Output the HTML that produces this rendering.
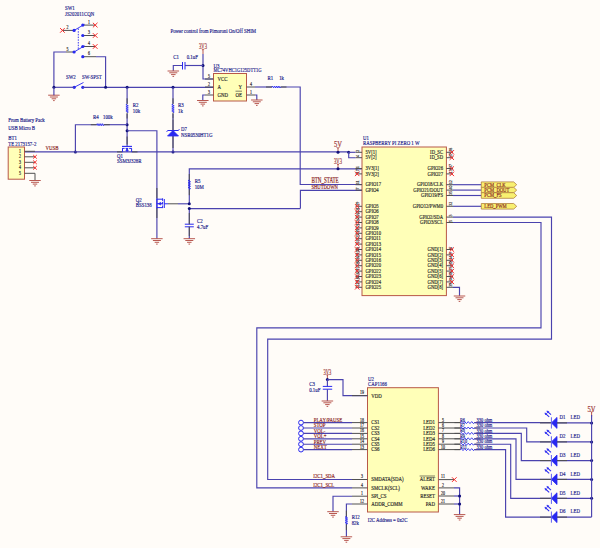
<!DOCTYPE html>
<html><head><meta charset="utf-8"><style>
html,body{margin:0;padding:0;background:#fffcf8;}
svg{display:block;font-family:"Liberation Serif",serif;}
</style></head><body>
<svg width="600" height="548" viewBox="0 0 600 548">
<rect width="600" height="548" fill="#fffcf8"/>
<text transform="translate(65 10.3) scale(0.7 1)" fill="#22228a" stroke="#22228a" stroke-width="0.2" font-size="6.92" text-anchor="start" >SW1</text>
<text transform="translate(65 15.6) scale(0.7 1)" fill="#22228a" stroke="#22228a" stroke-width="0.2" font-size="6.92" text-anchor="start" >JS202011CQN</text>
<line x1="82.8" y1="25.1" x2="95.2" y2="25.1" stroke="#505050" stroke-width="1" />
<line x1="92.9" y1="22.8" x2="97.5" y2="27.4" stroke="#f82828" stroke-width="1.0" />
<line x1="92.9" y1="27.4" x2="97.5" y2="22.8" stroke="#f82828" stroke-width="1.0" />
<text transform="translate(89 23.6) scale(0.7 1)" fill="#2a2a2a" stroke="#2a2a2a" stroke-width="0.2" font-size="5.59" text-anchor="middle" >1</text>
<circle cx="82.8" cy="25.1" r="1.6" fill="#2828f0"/>
<line x1="82.8" y1="35.5" x2="95.2" y2="35.5" stroke="#505050" stroke-width="1" />
<line x1="92.9" y1="33.2" x2="97.5" y2="37.8" stroke="#f82828" stroke-width="1.0" />
<line x1="92.9" y1="37.8" x2="97.5" y2="33.2" stroke="#f82828" stroke-width="1.0" />
<text transform="translate(89 34) scale(0.7 1)" fill="#2a2a2a" stroke="#2a2a2a" stroke-width="0.2" font-size="5.59" text-anchor="middle" >3</text>
<circle cx="82.8" cy="35.5" r="1.6" fill="#2828f0"/>
<line x1="82.8" y1="46.5" x2="95.2" y2="46.5" stroke="#505050" stroke-width="1" />
<line x1="92.9" y1="44.2" x2="97.5" y2="48.8" stroke="#f82828" stroke-width="1.0" />
<line x1="92.9" y1="48.8" x2="97.5" y2="44.2" stroke="#f82828" stroke-width="1.0" />
<text transform="translate(89 45) scale(0.7 1)" fill="#2a2a2a" stroke="#2a2a2a" stroke-width="0.2" font-size="5.59" text-anchor="middle" >4</text>
<circle cx="82.8" cy="46.5" r="1.6" fill="#2828f0"/>
<line x1="62.4" y1="30.4" x2="74.1" y2="30.4" stroke="#505050" stroke-width="1" />
<line x1="60.1" y1="28.1" x2="64.7" y2="32.7" stroke="#f82828" stroke-width="1.0" />
<line x1="60.1" y1="32.7" x2="64.7" y2="28.1" stroke="#f82828" stroke-width="1.0" />
<circle cx="74.1" cy="30.4" r="1.6" fill="#2828f0"/>
<text transform="translate(67.5 28.9) scale(0.7 1)" fill="#2a2a2a" stroke="#2a2a2a" stroke-width="0.2" font-size="5.59" text-anchor="middle" >2</text>
<line x1="74.1" y1="30.4" x2="84.5" y2="24.3" stroke="#2828f0" stroke-width="0.9" />
<line x1="74.1" y1="52" x2="84.5" y2="45.8" stroke="#2828f0" stroke-width="0.9" />
<line x1="78.3" y1="28.5" x2="78.3" y2="49.4" stroke="#2828f0" stroke-width="0.9" stroke-dasharray="1.5,1.2"/>
<line x1="66" y1="52" x2="74.1" y2="52" stroke="#505050" stroke-width="1" />
<circle cx="74.1" cy="52" r="1.6" fill="#2828f0"/>
<text transform="translate(67.5 50.5) scale(0.7 1)" fill="#2a2a2a" stroke="#2a2a2a" stroke-width="0.2" font-size="5.59" text-anchor="middle" >5</text>
<line x1="82.8" y1="56.7" x2="96" y2="56.7" stroke="#505050" stroke-width="1" />
<circle cx="82.8" cy="56.7" r="1.6" fill="#2828f0"/>
<text transform="translate(89 55.2) scale(0.7 1)" fill="#2a2a2a" stroke="#2a2a2a" stroke-width="0.2" font-size="5.59" text-anchor="middle" >6</text>
<polyline points="66,52 53.9,52 53.9,87.3" stroke="#4a42ae" stroke-width="1.15" fill="none" />
<polyline points="96,56.7 105.6,56.7 105.6,87.3" stroke="#4a42ae" stroke-width="1.15" fill="none" />
<text transform="translate(66 79) scale(0.7 1)" fill="#22228a" stroke="#22228a" stroke-width="0.2" font-size="6.92" text-anchor="start" >SW2</text>
<text transform="translate(82 79) scale(0.7 1)" fill="#22228a" stroke="#22228a" stroke-width="0.2" font-size="6.92" text-anchor="start" >SW-SPST</text>
<circle cx="74.2" cy="87.3" r="1.6" fill="#2828f0"/>
<circle cx="82.8" cy="87.3" r="1.6" fill="#2828f0"/>
<line x1="74.2" y1="87.3" x2="83.5" y2="82.5" stroke="#2828f0" stroke-width="0.9" />
<line x1="53.9" y1="87.3" x2="74.2" y2="87.3" stroke="#4a42ae" stroke-width="1.15" />
<line x1="82.8" y1="87.3" x2="213.5" y2="87.3" stroke="#4a42ae" stroke-width="1.15" />
<circle cx="53.9" cy="87.3" r="1.5" fill="#10107a"/>
<circle cx="105.6" cy="87.3" r="1.5" fill="#10107a"/>
<circle cx="127.1" cy="87.3" r="1.5" fill="#10107a"/>
<circle cx="173" cy="87.3" r="1.5" fill="#10107a"/>
<line x1="53.9" y1="94.7" x2="53.9" y2="95.2" stroke="#b85850" stroke-width="1" />
<line x1="48.15" y1="95.2" x2="59.65" y2="95.2" stroke="#b85850" stroke-width="1" />
<line x1="49.9" y1="97" x2="57.9" y2="97" stroke="#b85850" stroke-width="1" />
<line x1="51.65" y1="98.8" x2="56.15" y2="98.8" stroke="#b85850" stroke-width="1" />
<line x1="53.1" y1="100.6" x2="54.7" y2="100.6" stroke="#b85850" stroke-width="1" />
<line x1="53.9" y1="87.3" x2="53.9" y2="95.2" stroke="#4a42ae" stroke-width="1.15" />
<text transform="translate(170.5 33) scale(0.7 1)" fill="#22228a" stroke="#22228a" stroke-width="0.2" font-size="6.92" text-anchor="start" >Power control from Pimoroni On/Off SHIM</text>
<line x1="203" y1="49" x2="203" y2="54" stroke="#b85850" stroke-width="1" />
<polyline points="201.4,48.6 203,50.2 204.6,48.6" stroke="#b85850" stroke-width="0.8" fill="none" />
<text x="203" y="49" fill="#a04040" stroke="#a04040" stroke-width="0.2" font-size="7.71" text-anchor="middle" textLength="7.8" lengthAdjust="spacingAndGlyphs">3V3</text>
<polyline points="203,54 203,79 213.5,79" stroke="#4a42ae" stroke-width="1.15" fill="none" />
<circle cx="203" cy="65.5" r="1.5" fill="#10107a"/>
<line x1="185" y1="65.5" x2="203" y2="65.5" stroke="#4a42ae" stroke-width="1.15" />
<polyline points="182.5,65.5 173.3,65.5 173.3,71" stroke="#4a42ae" stroke-width="1.15" fill="none" />
<line x1="182.5" y1="62" x2="182.5" y2="69.5" stroke="#2828f0" stroke-width="1" />
<line x1="185" y1="62" x2="185" y2="69.5" stroke="#2828f0" stroke-width="1" />
<line x1="173.3" y1="70.5" x2="173.3" y2="71" stroke="#b85850" stroke-width="1" />
<line x1="167.55" y1="71" x2="179.05" y2="71" stroke="#b85850" stroke-width="1" />
<line x1="169.3" y1="72.8" x2="177.3" y2="72.8" stroke="#b85850" stroke-width="1" />
<line x1="171.05" y1="74.6" x2="175.55" y2="74.6" stroke="#b85850" stroke-width="1" />
<line x1="172.5" y1="76.4" x2="174.1" y2="76.4" stroke="#b85850" stroke-width="1" />
<text transform="translate(173.3 59) scale(0.7 1)" fill="#22228a" stroke="#22228a" stroke-width="0.2" font-size="6.92" text-anchor="start" >C1</text>
<text transform="translate(186.7 59) scale(0.7 1)" fill="#22228a" stroke="#22228a" stroke-width="0.2" font-size="6.92" text-anchor="start" >0.1uF</text>
<rect x="213.5" y="73.5" width="33" height="27.5" fill="#ffffb8" stroke="#b85848" stroke-width="1"/>
<text transform="translate(213.5 67.5) scale(0.7 1)" fill="#22228a" stroke="#22228a" stroke-width="0.2" font-size="6.92" text-anchor="start" >U3</text>
<text x="213.5" y="72.3" fill="#22228a" stroke="#22228a" stroke-width="0.2" font-size="6.92" text-anchor="start" textLength="48" lengthAdjust="spacingAndGlyphs">MC74VHC1G125DTT1G</text>
<line x1="205" y1="79" x2="213.5" y2="79" stroke="#505050" stroke-width="1" />
<text transform="translate(209 77.8) scale(0.7 1)" fill="#2a2a2a" stroke="#2a2a2a" stroke-width="0.2" font-size="5.72" text-anchor="middle" >5</text>
<text transform="translate(217.5 80.8) scale(0.7 1)" fill="#2a2a2a" stroke="#2a2a2a" stroke-width="0.2" font-size="6.92" text-anchor="start" >VCC</text>
<line x1="205" y1="87" x2="213.5" y2="87" stroke="#505050" stroke-width="1" />
<text transform="translate(209 85.8) scale(0.7 1)" fill="#2a2a2a" stroke="#2a2a2a" stroke-width="0.2" font-size="5.72" text-anchor="middle" >2</text>
<text transform="translate(217.5 88.8) scale(0.7 1)" fill="#2a2a2a" stroke="#2a2a2a" stroke-width="0.2" font-size="6.92" text-anchor="start" >A</text>
<line x1="205" y1="95" x2="213.5" y2="95" stroke="#505050" stroke-width="1" />
<text transform="translate(209 93.8) scale(0.7 1)" fill="#2a2a2a" stroke="#2a2a2a" stroke-width="0.2" font-size="5.72" text-anchor="middle" >3</text>
<text transform="translate(217.5 96.8) scale(0.7 1)" fill="#2a2a2a" stroke="#2a2a2a" stroke-width="0.2" font-size="6.92" text-anchor="start" >GND</text>
<line x1="246.5" y1="87" x2="255" y2="87" stroke="#505050" stroke-width="1" />
<text transform="translate(251 85.8) scale(0.7 1)" fill="#2a2a2a" stroke="#2a2a2a" stroke-width="0.2" font-size="5.72" text-anchor="middle" >4</text>
<text transform="translate(242 88.8) scale(0.7 1)" fill="#2a2a2a" stroke="#2a2a2a" stroke-width="0.2" font-size="6.92" text-anchor="end" >Y</text>
<line x1="246.5" y1="95" x2="255" y2="95" stroke="#505050" stroke-width="1" />
<text transform="translate(251 93.8) scale(0.7 1)" fill="#2a2a2a" stroke="#2a2a2a" stroke-width="0.2" font-size="5.72" text-anchor="middle" >1</text>
<text transform="translate(242 96.8) scale(0.7 1)" fill="#2a2a2a" stroke="#2a2a2a" stroke-width="0.2" font-size="6.92" text-anchor="end" >OE</text>
<line x1="235.5" y1="91.2" x2="242" y2="91.2" stroke="#2a2a2a" stroke-width="0.6" />
<polyline points="205,95 202.8,95 202.8,100.5" stroke="#4a42ae" stroke-width="1.15" fill="none" />
<line x1="202.8" y1="100" x2="202.8" y2="100.5" stroke="#b85850" stroke-width="1" />
<line x1="197.05" y1="100.5" x2="208.55" y2="100.5" stroke="#b85850" stroke-width="1" />
<line x1="198.8" y1="102.3" x2="206.8" y2="102.3" stroke="#b85850" stroke-width="1" />
<line x1="200.55" y1="104.1" x2="205.05" y2="104.1" stroke="#b85850" stroke-width="1" />
<line x1="202" y1="105.9" x2="203.6" y2="105.9" stroke="#b85850" stroke-width="1" />
<polyline points="255,95 256.8,95 256.8,100" stroke="#4a42ae" stroke-width="1.15" fill="none" />
<line x1="256.8" y1="99.5" x2="256.8" y2="100" stroke="#b85850" stroke-width="1" />
<line x1="251.05" y1="100" x2="262.55" y2="100" stroke="#b85850" stroke-width="1" />
<line x1="252.8" y1="101.8" x2="260.8" y2="101.8" stroke="#b85850" stroke-width="1" />
<line x1="254.55" y1="103.6" x2="259.05" y2="103.6" stroke="#b85850" stroke-width="1" />
<line x1="256" y1="105.4" x2="257.6" y2="105.4" stroke="#b85850" stroke-width="1" />
<line x1="255" y1="87" x2="272" y2="87" stroke="#4a42ae" stroke-width="1.15" />
<polyline points="280.5,87 300.2,87 300.2,184.5 362,184.5" stroke="#4a42ae" stroke-width="1.15" fill="none" />
<line x1="266" y1="87" x2="272" y2="87" stroke="#505050" stroke-width="1" />
<line x1="280.5" y1="87" x2="286.5" y2="87" stroke="#505050" stroke-width="1" />
<polyline points="272,87 272.53,86 273.59,88 274.66,86 275.72,88 276.78,86 277.84,88 278.91,86 279.97,88 280.5,87" stroke="#2828f0" stroke-width="0.9" fill="none" />
<text transform="translate(267.4 80) scale(0.7 1)" fill="#22228a" stroke="#22228a" stroke-width="0.2" font-size="6.92" text-anchor="start" >R1</text>
<text transform="translate(279.2 80) scale(0.7 1)" fill="#22228a" stroke="#22228a" stroke-width="0.2" font-size="6.92" text-anchor="start" >1k</text>
<line x1="127.1" y1="87.3" x2="127.1" y2="103.7" stroke="#4a42ae" stroke-width="1.15" />
<line x1="127.1" y1="113.8" x2="127.1" y2="146.6" stroke="#4a42ae" stroke-width="1.15" />
<line x1="127.1" y1="98.3" x2="127.1" y2="104.3" stroke="#505050" stroke-width="1" />
<line x1="127.1" y1="112.5" x2="127.1" y2="118.5" stroke="#505050" stroke-width="1" />
<polyline points="127.1,104.3 125.9,104.81 128.3,105.84 125.9,106.86 128.3,107.89 125.9,108.91 128.3,109.94 125.9,110.96 128.3,111.99 127.1,112.5" stroke="#2828f0" stroke-width="0.9" fill="none" />
<text transform="translate(132.8 106.5) scale(0.7 1)" fill="#22228a" stroke="#22228a" stroke-width="0.2" font-size="6.92" text-anchor="start" >R2</text>
<text transform="translate(132.8 112.5) scale(0.7 1)" fill="#22228a" stroke="#22228a" stroke-width="0.2" font-size="6.92" text-anchor="start" >10k</text>
<circle cx="127.1" cy="124.7" r="1.5" fill="#10107a"/>
<circle cx="127.1" cy="130.7" r="1.5" fill="#10107a"/>
<polyline points="75.4,152.1 75.4,124.7 96.8,124.7" stroke="#4a42ae" stroke-width="1.15" fill="none" />
<line x1="103.8" y1="124.7" x2="127.1" y2="124.7" stroke="#4a42ae" stroke-width="1.15" />
<line x1="90.8" y1="124.7" x2="96.8" y2="124.7" stroke="#505050" stroke-width="1" />
<line x1="103.8" y1="124.7" x2="109.8" y2="124.7" stroke="#505050" stroke-width="1" />
<polyline points="96.8,124.7 97.24,123.7 98.11,125.7 98.99,123.7 99.86,125.7 100.74,123.7 101.61,125.7 102.49,123.7 103.36,125.7 103.8,124.7" stroke="#2828f0" stroke-width="0.9" fill="none" />
<text transform="translate(93 119) scale(0.7 1)" fill="#22228a" stroke="#22228a" stroke-width="0.2" font-size="6.92" text-anchor="start" >R4</text>
<text transform="translate(103 119) scale(0.7 1)" fill="#22228a" stroke="#22228a" stroke-width="0.2" font-size="6.92" text-anchor="start" >100k</text>
<polyline points="127.1,130.7 156.9,130.7 156.9,198.5" stroke="#4a42ae" stroke-width="1.15" fill="none" />
<line x1="173" y1="87.3" x2="173" y2="103.7" stroke="#4a42ae" stroke-width="1.15" />
<line x1="173" y1="113.8" x2="173" y2="152.1" stroke="#4a42ae" stroke-width="1.15" />
<line x1="173" y1="98.3" x2="173" y2="104.3" stroke="#505050" stroke-width="1" />
<line x1="173" y1="112.5" x2="173" y2="118.5" stroke="#505050" stroke-width="1" />
<polyline points="173,104.3 171.8,104.81 174.2,105.84 171.8,106.86 174.2,107.89 171.8,108.91 174.2,109.94 171.8,110.96 174.2,111.99 173,112.5" stroke="#2828f0" stroke-width="0.9" fill="none" />
<line x1="173" y1="119.4" x2="173" y2="130" stroke="#505050" stroke-width="1" />
<line x1="173" y1="136" x2="173" y2="148" stroke="#505050" stroke-width="1" />
<text transform="translate(178 106.5) scale(0.7 1)" fill="#22228a" stroke="#22228a" stroke-width="0.2" font-size="6.92" text-anchor="start" >R3</text>
<text transform="translate(178 112.5) scale(0.7 1)" fill="#22228a" stroke="#22228a" stroke-width="0.2" font-size="6.92" text-anchor="start" >1k</text>
<polygon points="167.5,136 178.5,136 173,130.5" stroke="#2828f0" stroke-width="0.8" fill="#2828f0"/>
<polyline points="166.5,131.5 168,130.5 178,130.5 179.5,129.5" stroke="#2828f0" stroke-width="1" fill="none" />
<text transform="translate(181 130.5) scale(0.7 1)" fill="#22228a" stroke="#22228a" stroke-width="0.2" font-size="6.92" text-anchor="start" >D7</text>
<text transform="translate(181 137) scale(0.7 1)" fill="#22228a" stroke="#22228a" stroke-width="0.2" font-size="6.92" text-anchor="start" >NSR0530HT1G</text>
<circle cx="173" cy="152.1" r="1.5" fill="#10107a"/>
<circle cx="75.4" cy="152.1" r="1.5" fill="#10107a"/>
<line x1="24.5" y1="151.9" x2="349" y2="151.9" stroke="#4a42ae" stroke-width="1.15" />
<line x1="117" y1="151.9" x2="122.5" y2="151.9" stroke="#505050" stroke-width="1" />
<line x1="131.7" y1="151.9" x2="137.5" y2="151.9" stroke="#505050" stroke-width="1" />
<line x1="127.1" y1="136.5" x2="127.1" y2="144.5" stroke="#505050" stroke-width="1" />
<line x1="122" y1="146.4" x2="132" y2="146.4" stroke="#2828f0" stroke-width="1.1" />
<line x1="122" y1="148.4" x2="132" y2="148.4" stroke="#2828f0" stroke-width="1.0" stroke-dasharray="2.6,1"/>
<line x1="122.5" y1="148.4" x2="122.5" y2="151.9" stroke="#2828f0" stroke-width="1" />
<line x1="131.6" y1="148.4" x2="131.6" y2="151.9" stroke="#2828f0" stroke-width="1" />
<line x1="127.1" y1="148.4" x2="127.1" y2="151.9" stroke="#2828f0" stroke-width="1" />
<polygon points="125.8,150.8 128.4,150.8 127.1,148.6" stroke="#2828f0" stroke-width="0.6" fill="#2828f0"/>
<text transform="translate(117 157.5) scale(0.7 1)" fill="#22228a" stroke="#22228a" stroke-width="0.2" font-size="6.92" text-anchor="start" >Q1</text>
<text transform="translate(117 163) scale(0.7 1)" fill="#22228a" stroke="#22228a" stroke-width="0.2" font-size="6.92" text-anchor="start" >SSM3J328R</text>
<text transform="translate(8.2 121.5) scale(0.7 1)" fill="#22228a" stroke="#22228a" stroke-width="0.2" font-size="6.92" text-anchor="start" >From Battery Pack</text>
<text transform="translate(8.2 129.5) scale(0.7 1)" fill="#22228a" stroke="#22228a" stroke-width="0.2" font-size="6.92" text-anchor="start" >USB Micro B</text>
<text transform="translate(8.2 139.8) scale(0.7 1)" fill="#22228a" stroke="#22228a" stroke-width="0.2" font-size="6.92" text-anchor="start" >BT1</text>
<text transform="translate(8.2 145.8) scale(0.7 1)" fill="#22228a" stroke="#22228a" stroke-width="0.2" font-size="6.92" text-anchor="start" >TE 2173157-2</text>
<rect x="8.2" y="147" width="16.3" height="32.2" fill="#ffffb8" stroke="#b85848" stroke-width="1"/>
<text transform="translate(45.5 149.8) scale(0.7 1)" fill="#8a2424" stroke="#8a2424" stroke-width="0.2" font-size="6.92" text-anchor="start" >VUSB</text>
<text transform="translate(21 152.9) scale(0.7 1)" fill="#2a2a2a" stroke="#2a2a2a" stroke-width="0.2" font-size="5.59" text-anchor="end" >1</text>
<line x1="24.5" y1="151.3" x2="35" y2="151.3" stroke="#505050" stroke-width="1" />
<text transform="translate(21 158.4) scale(0.7 1)" fill="#2a2a2a" stroke="#2a2a2a" stroke-width="0.2" font-size="5.59" text-anchor="end" >2</text>
<line x1="24.5" y1="156.8" x2="35" y2="156.8" stroke="#505050" stroke-width="1" />
<line x1="33.2" y1="155" x2="36.8" y2="158.6" stroke="#f82828" stroke-width="1.0" />
<line x1="33.2" y1="158.6" x2="36.8" y2="155" stroke="#f82828" stroke-width="1.0" />
<text transform="translate(21 163.9) scale(0.7 1)" fill="#2a2a2a" stroke="#2a2a2a" stroke-width="0.2" font-size="5.59" text-anchor="end" >3</text>
<line x1="24.5" y1="162.3" x2="35" y2="162.3" stroke="#505050" stroke-width="1" />
<line x1="33.2" y1="160.5" x2="36.8" y2="164.1" stroke="#f82828" stroke-width="1.0" />
<line x1="33.2" y1="164.1" x2="36.8" y2="160.5" stroke="#f82828" stroke-width="1.0" />
<text transform="translate(21 169.4) scale(0.7 1)" fill="#2a2a2a" stroke="#2a2a2a" stroke-width="0.2" font-size="5.59" text-anchor="end" >4</text>
<line x1="24.5" y1="167.8" x2="35" y2="167.8" stroke="#505050" stroke-width="1" />
<line x1="33.2" y1="166" x2="36.8" y2="169.6" stroke="#f82828" stroke-width="1.0" />
<line x1="33.2" y1="169.6" x2="36.8" y2="166" stroke="#f82828" stroke-width="1.0" />
<text transform="translate(21 174.9) scale(0.7 1)" fill="#2a2a2a" stroke="#2a2a2a" stroke-width="0.2" font-size="5.59" text-anchor="end" >5</text>
<line x1="24.5" y1="173.3" x2="35" y2="173.3" stroke="#505050" stroke-width="1" />
<polyline points="35,173.3 35,180.5" stroke="#505050" stroke-width="1" fill="none" />
<line x1="35" y1="180" x2="35" y2="180.5" stroke="#b85850" stroke-width="1" />
<line x1="29.25" y1="180.5" x2="40.75" y2="180.5" stroke="#b85850" stroke-width="1" />
<line x1="31" y1="182.3" x2="39" y2="182.3" stroke="#b85850" stroke-width="1" />
<line x1="32.75" y1="184.1" x2="37.25" y2="184.1" stroke="#b85850" stroke-width="1" />
<line x1="34.2" y1="185.9" x2="35.8" y2="185.9" stroke="#b85850" stroke-width="1" />
<line x1="156.9" y1="198.5" x2="156.9" y2="238.7" stroke="#4a42ae" stroke-width="1.15" />
<line x1="156.9" y1="238.2" x2="156.9" y2="238.7" stroke="#b85850" stroke-width="1" />
<line x1="151.15" y1="238.7" x2="162.65" y2="238.7" stroke="#b85850" stroke-width="1" />
<line x1="152.9" y1="240.5" x2="160.9" y2="240.5" stroke="#b85850" stroke-width="1" />
<line x1="154.65" y1="242.3" x2="159.15" y2="242.3" stroke="#b85850" stroke-width="1" />
<line x1="156.1" y1="244.1" x2="157.7" y2="244.1" stroke="#b85850" stroke-width="1" />
<line x1="156.9" y1="188" x2="156.9" y2="198.5" stroke="#505050" stroke-width="1" />
<line x1="156.9" y1="208" x2="156.9" y2="218" stroke="#505050" stroke-width="1" />
<line x1="156.9" y1="199.2" x2="162.5" y2="199.2" stroke="#2828f0" stroke-width="1" />
<line x1="156.9" y1="207.6" x2="162.5" y2="207.6" stroke="#2828f0" stroke-width="1" />
<line x1="156.9" y1="203.7" x2="162.5" y2="203.7" stroke="#2828f0" stroke-width="1" />
<line x1="156.9" y1="198.6" x2="156.9" y2="208.2" stroke="#2828f0" stroke-width="1.1" />
<line x1="162.6" y1="198.3" x2="162.6" y2="208.5" stroke="#2828f0" stroke-width="1" stroke-dasharray="2.6,1"/>
<line x1="164.3" y1="199" x2="164.3" y2="208" stroke="#2828f0" stroke-width="1" />
<polygon points="158.2,203.7 160.8,202.3 160.8,205.1" stroke="#2828f0" stroke-width="0.6" fill="#2828f0"/>
<line x1="164.3" y1="203.8" x2="168" y2="203.8" stroke="#2828f0" stroke-width="1" />
<line x1="168" y1="203.8" x2="178" y2="203.8" stroke="#505050" stroke-width="1" />
<line x1="178" y1="203.8" x2="189.3" y2="203.8" stroke="#4a42ae" stroke-width="1.15" />
<text transform="translate(135.8 201.5) scale(0.7 1)" fill="#22228a" stroke="#22228a" stroke-width="0.2" font-size="6.92" text-anchor="start" >Q2</text>
<text transform="translate(135.8 207) scale(0.7 1)" fill="#22228a" stroke="#22228a" stroke-width="0.2" font-size="6.92" text-anchor="start" >BSS138</text>
<polyline points="300.4,208.6 189.3,208.6 189.3,224.2" stroke="#4a42ae" stroke-width="1.15" fill="none" />
<polyline points="189.3,203.8 189.3,180" stroke="#4a42ae" stroke-width="1.15" fill="none" />
<polyline points="189.3,189.2 189.3,168.8 362,168.8" stroke="#4a42ae" stroke-width="1.15" fill="none" />
<line x1="189.3" y1="174" x2="189.3" y2="180" stroke="#505050" stroke-width="1" />
<line x1="189.3" y1="189.2" x2="189.3" y2="195.2" stroke="#505050" stroke-width="1" />
<polyline points="189.3,180 188.1,180.57 190.5,181.72 188.1,182.88 190.5,184.03 188.1,185.17 190.5,186.32 188.1,187.47 190.5,188.62 189.3,189.2" stroke="#2828f0" stroke-width="0.9" fill="none" />
<circle cx="189.3" cy="203.8" r="1.5" fill="#10107a"/>
<circle cx="189.3" cy="208.6" r="1.5" fill="#10107a"/>
<line x1="184.8" y1="224.2" x2="193.8" y2="224.2" stroke="#2828f0" stroke-width="1" />
<line x1="184.8" y1="226.8" x2="193.8" y2="226.8" stroke="#2828f0" stroke-width="1" />
<line x1="189.3" y1="226.8" x2="189.3" y2="238.7" stroke="#4a42ae" stroke-width="1.15" />
<line x1="189.3" y1="213" x2="189.3" y2="224.2" stroke="#505050" stroke-width="1" />
<line x1="189.3" y1="226.8" x2="189.3" y2="236" stroke="#505050" stroke-width="1" />
<line x1="189.3" y1="238.2" x2="189.3" y2="238.7" stroke="#b85850" stroke-width="1" />
<line x1="183.55" y1="238.7" x2="195.05" y2="238.7" stroke="#b85850" stroke-width="1" />
<line x1="185.3" y1="240.5" x2="193.3" y2="240.5" stroke="#b85850" stroke-width="1" />
<line x1="187.05" y1="242.3" x2="191.55" y2="242.3" stroke="#b85850" stroke-width="1" />
<line x1="188.5" y1="244.1" x2="190.1" y2="244.1" stroke="#b85850" stroke-width="1" />
<text transform="translate(194.7 182.5) scale(0.7 1)" fill="#22228a" stroke="#22228a" stroke-width="0.2" font-size="6.92" text-anchor="start" >R5</text>
<text transform="translate(194.7 188.5) scale(0.7 1)" fill="#22228a" stroke="#22228a" stroke-width="0.2" font-size="6.92" text-anchor="start" >10M</text>
<text transform="translate(197 223) scale(0.7 1)" fill="#22228a" stroke="#22228a" stroke-width="0.2" font-size="6.92" text-anchor="start" >C2</text>
<text transform="translate(197 229) scale(0.7 1)" fill="#22228a" stroke="#22228a" stroke-width="0.2" font-size="6.92" text-anchor="start" >4.7uF</text>
<polyline points="300.4,208.6 300.4,190.4 362,190.4" stroke="#4a42ae" stroke-width="1.15" fill="none" />
<text transform="translate(311.4 183.3) scale(0.7 1)" fill="#8a2424" stroke="#8a2424" stroke-width="0.2" font-size="7.18" text-anchor="start" >BTN_STATE</text>
<text transform="translate(311.4 189) scale(0.7 1)" fill="#8a2424" stroke="#8a2424" stroke-width="0.2" font-size="6.65" text-anchor="start" >SHUTDOWN</text>
<rect x="362" y="147" width="84.4" height="148.6" fill="#ffffb8" stroke="#b85848" stroke-width="1"/>
<text transform="translate(363 139.5) scale(0.7 1)" fill="#22228a" stroke="#22228a" stroke-width="0.2" font-size="6.92" text-anchor="start" >U1</text>
<text transform="translate(363 145.3) scale(0.7 1)" fill="#22228a" stroke="#22228a" stroke-width="0.2" font-size="6.92" text-anchor="start" >RASPBERRY PI ZERO 1 W</text>
<line x1="355.5" y1="152.3" x2="362" y2="152.3" stroke="#505050" stroke-width="1" />
<text transform="translate(358.6 151.7) rotate(-90) scale(0.86 1)" fill="#2a2a2a" stroke="#2a2a2a" stroke-width="0.15" font-size="4.6">2</text>
<text transform="translate(365.5 154) scale(0.7 1)" fill="#2a2a2a" stroke="#2a2a2a" stroke-width="0.2" font-size="6.65" text-anchor="start" >5V[1]</text>
<line x1="355.5" y1="157.7" x2="362" y2="157.7" stroke="#505050" stroke-width="1" />
<text transform="translate(358.6 157.1) rotate(-90) scale(0.86 1)" fill="#2a2a2a" stroke="#2a2a2a" stroke-width="0.15" font-size="4.6">4</text>
<text transform="translate(365.5 159.4) scale(0.7 1)" fill="#2a2a2a" stroke="#2a2a2a" stroke-width="0.2" font-size="6.65" text-anchor="start" >5V[2]</text>
<line x1="355.5" y1="168.5" x2="362" y2="168.5" stroke="#505050" stroke-width="1" />
<text transform="translate(358.6 167.9) rotate(-90) scale(0.86 1)" fill="#2a2a2a" stroke="#2a2a2a" stroke-width="0.15" font-size="4.6">1</text>
<text transform="translate(365.5 170.2) scale(0.7 1)" fill="#2a2a2a" stroke="#2a2a2a" stroke-width="0.2" font-size="6.65" text-anchor="start" >3V3[1]</text>
<line x1="355.5" y1="173.9" x2="362" y2="173.9" stroke="#505050" stroke-width="1" />
<text transform="translate(358.6 173.3) rotate(-90) scale(0.86 1)" fill="#2a2a2a" stroke="#2a2a2a" stroke-width="0.15" font-size="4.6">17</text>
<text transform="translate(365.5 175.6) scale(0.7 1)" fill="#2a2a2a" stroke="#2a2a2a" stroke-width="0.2" font-size="6.65" text-anchor="start" >3V3[2]</text>
<line x1="355" y1="171.7" x2="359.4" y2="176.1" stroke="#f82828" stroke-width="1.0" />
<line x1="355" y1="176.1" x2="359.4" y2="171.7" stroke="#f82828" stroke-width="1.0" />
<line x1="355.5" y1="184.7" x2="362" y2="184.7" stroke="#505050" stroke-width="1" />
<text transform="translate(358.6 184.1) rotate(-90) scale(0.86 1)" fill="#2a2a2a" stroke="#2a2a2a" stroke-width="0.15" font-size="4.6">11</text>
<text transform="translate(365.5 186.4) scale(0.7 1)" fill="#2a2a2a" stroke="#2a2a2a" stroke-width="0.2" font-size="6.65" text-anchor="start" >GPIO17</text>
<line x1="355.5" y1="190.1" x2="362" y2="190.1" stroke="#505050" stroke-width="1" />
<text transform="translate(358.6 189.5) rotate(-90) scale(0.86 1)" fill="#2a2a2a" stroke="#2a2a2a" stroke-width="0.15" font-size="4.6">7</text>
<text transform="translate(365.5 191.8) scale(0.7 1)" fill="#2a2a2a" stroke="#2a2a2a" stroke-width="0.2" font-size="6.65" text-anchor="start" >GPIO4</text>
<line x1="355.5" y1="206.3" x2="362" y2="206.3" stroke="#505050" stroke-width="1" />
<text transform="translate(358.6 205.7) rotate(-90) scale(0.86 1)" fill="#2a2a2a" stroke="#2a2a2a" stroke-width="0.15" font-size="4.6">29</text>
<text transform="translate(365.5 208) scale(0.7 1)" fill="#2a2a2a" stroke="#2a2a2a" stroke-width="0.2" font-size="6.65" text-anchor="start" >GPIO5</text>
<line x1="355" y1="204.1" x2="359.4" y2="208.5" stroke="#f82828" stroke-width="1.0" />
<line x1="355" y1="208.5" x2="359.4" y2="204.1" stroke="#f82828" stroke-width="1.0" />
<line x1="355.5" y1="211.7" x2="362" y2="211.7" stroke="#505050" stroke-width="1" />
<text transform="translate(358.6 211.1) rotate(-90) scale(0.86 1)" fill="#2a2a2a" stroke="#2a2a2a" stroke-width="0.15" font-size="4.6">31</text>
<text transform="translate(365.5 213.4) scale(0.7 1)" fill="#2a2a2a" stroke="#2a2a2a" stroke-width="0.2" font-size="6.65" text-anchor="start" >GPIO6</text>
<line x1="355" y1="209.5" x2="359.4" y2="213.9" stroke="#f82828" stroke-width="1.0" />
<line x1="355" y1="213.9" x2="359.4" y2="209.5" stroke="#f82828" stroke-width="1.0" />
<line x1="355.5" y1="217.1" x2="362" y2="217.1" stroke="#505050" stroke-width="1" />
<text transform="translate(358.6 216.5) rotate(-90) scale(0.86 1)" fill="#2a2a2a" stroke="#2a2a2a" stroke-width="0.15" font-size="4.6">26</text>
<text transform="translate(365.5 218.8) scale(0.7 1)" fill="#2a2a2a" stroke="#2a2a2a" stroke-width="0.2" font-size="6.65" text-anchor="start" >GPIO7</text>
<line x1="355" y1="214.9" x2="359.4" y2="219.3" stroke="#f82828" stroke-width="1.0" />
<line x1="355" y1="219.3" x2="359.4" y2="214.9" stroke="#f82828" stroke-width="1.0" />
<line x1="355.5" y1="222.5" x2="362" y2="222.5" stroke="#505050" stroke-width="1" />
<text transform="translate(358.6 221.9) rotate(-90) scale(0.86 1)" fill="#2a2a2a" stroke="#2a2a2a" stroke-width="0.15" font-size="4.6">24</text>
<text transform="translate(365.5 224.2) scale(0.7 1)" fill="#2a2a2a" stroke="#2a2a2a" stroke-width="0.2" font-size="6.65" text-anchor="start" >GPIO8</text>
<line x1="355" y1="220.3" x2="359.4" y2="224.7" stroke="#f82828" stroke-width="1.0" />
<line x1="355" y1="224.7" x2="359.4" y2="220.3" stroke="#f82828" stroke-width="1.0" />
<line x1="355.5" y1="227.9" x2="362" y2="227.9" stroke="#505050" stroke-width="1" />
<text transform="translate(358.6 227.3) rotate(-90) scale(0.86 1)" fill="#2a2a2a" stroke="#2a2a2a" stroke-width="0.15" font-size="4.6">21</text>
<text transform="translate(365.5 229.6) scale(0.7 1)" fill="#2a2a2a" stroke="#2a2a2a" stroke-width="0.2" font-size="6.65" text-anchor="start" >GPIO9</text>
<line x1="355" y1="225.7" x2="359.4" y2="230.1" stroke="#f82828" stroke-width="1.0" />
<line x1="355" y1="230.1" x2="359.4" y2="225.7" stroke="#f82828" stroke-width="1.0" />
<line x1="355.5" y1="233.3" x2="362" y2="233.3" stroke="#505050" stroke-width="1" />
<text transform="translate(358.6 232.7) rotate(-90) scale(0.86 1)" fill="#2a2a2a" stroke="#2a2a2a" stroke-width="0.15" font-size="4.6">19</text>
<text transform="translate(365.5 235) scale(0.7 1)" fill="#2a2a2a" stroke="#2a2a2a" stroke-width="0.2" font-size="6.65" text-anchor="start" >GPIO10</text>
<line x1="355" y1="231.1" x2="359.4" y2="235.5" stroke="#f82828" stroke-width="1.0" />
<line x1="355" y1="235.5" x2="359.4" y2="231.1" stroke="#f82828" stroke-width="1.0" />
<line x1="355.5" y1="238.7" x2="362" y2="238.7" stroke="#505050" stroke-width="1" />
<text transform="translate(358.6 238.1) rotate(-90) scale(0.86 1)" fill="#2a2a2a" stroke="#2a2a2a" stroke-width="0.15" font-size="4.6">23</text>
<text transform="translate(365.5 240.4) scale(0.7 1)" fill="#2a2a2a" stroke="#2a2a2a" stroke-width="0.2" font-size="6.65" text-anchor="start" >GPIO11</text>
<line x1="355" y1="236.5" x2="359.4" y2="240.9" stroke="#f82828" stroke-width="1.0" />
<line x1="355" y1="240.9" x2="359.4" y2="236.5" stroke="#f82828" stroke-width="1.0" />
<line x1="355.5" y1="244.1" x2="362" y2="244.1" stroke="#505050" stroke-width="1" />
<text transform="translate(358.6 243.5) rotate(-90) scale(0.86 1)" fill="#2a2a2a" stroke="#2a2a2a" stroke-width="0.15" font-size="4.6">33</text>
<text transform="translate(365.5 245.8) scale(0.7 1)" fill="#2a2a2a" stroke="#2a2a2a" stroke-width="0.2" font-size="6.65" text-anchor="start" >GPIO13</text>
<line x1="355" y1="241.9" x2="359.4" y2="246.3" stroke="#f82828" stroke-width="1.0" />
<line x1="355" y1="246.3" x2="359.4" y2="241.9" stroke="#f82828" stroke-width="1.0" />
<line x1="355.5" y1="249.5" x2="362" y2="249.5" stroke="#505050" stroke-width="1" />
<text transform="translate(358.6 248.9) rotate(-90) scale(0.86 1)" fill="#2a2a2a" stroke="#2a2a2a" stroke-width="0.15" font-size="4.6">8</text>
<text transform="translate(365.5 251.2) scale(0.7 1)" fill="#2a2a2a" stroke="#2a2a2a" stroke-width="0.2" font-size="6.65" text-anchor="start" >GPIO14</text>
<line x1="355" y1="247.3" x2="359.4" y2="251.7" stroke="#f82828" stroke-width="1.0" />
<line x1="355" y1="251.7" x2="359.4" y2="247.3" stroke="#f82828" stroke-width="1.0" />
<line x1="355.5" y1="254.9" x2="362" y2="254.9" stroke="#505050" stroke-width="1" />
<text transform="translate(358.6 254.3) rotate(-90) scale(0.86 1)" fill="#2a2a2a" stroke="#2a2a2a" stroke-width="0.15" font-size="4.6">10</text>
<text transform="translate(365.5 256.6) scale(0.7 1)" fill="#2a2a2a" stroke="#2a2a2a" stroke-width="0.2" font-size="6.65" text-anchor="start" >GPIO15</text>
<line x1="355" y1="252.7" x2="359.4" y2="257.1" stroke="#f82828" stroke-width="1.0" />
<line x1="355" y1="257.1" x2="359.4" y2="252.7" stroke="#f82828" stroke-width="1.0" />
<line x1="355.5" y1="260.3" x2="362" y2="260.3" stroke="#505050" stroke-width="1" />
<text transform="translate(358.6 259.7) rotate(-90) scale(0.86 1)" fill="#2a2a2a" stroke="#2a2a2a" stroke-width="0.15" font-size="4.6">36</text>
<text transform="translate(365.5 262) scale(0.7 1)" fill="#2a2a2a" stroke="#2a2a2a" stroke-width="0.2" font-size="6.65" text-anchor="start" >GPIO16</text>
<line x1="355" y1="258.1" x2="359.4" y2="262.5" stroke="#f82828" stroke-width="1.0" />
<line x1="355" y1="262.5" x2="359.4" y2="258.1" stroke="#f82828" stroke-width="1.0" />
<line x1="355.5" y1="265.7" x2="362" y2="265.7" stroke="#505050" stroke-width="1" />
<text transform="translate(358.6 265.1) rotate(-90) scale(0.86 1)" fill="#2a2a2a" stroke="#2a2a2a" stroke-width="0.15" font-size="4.6">38</text>
<text transform="translate(365.5 267.4) scale(0.7 1)" fill="#2a2a2a" stroke="#2a2a2a" stroke-width="0.2" font-size="6.65" text-anchor="start" >GPIO20</text>
<line x1="355" y1="263.5" x2="359.4" y2="267.9" stroke="#f82828" stroke-width="1.0" />
<line x1="355" y1="267.9" x2="359.4" y2="263.5" stroke="#f82828" stroke-width="1.0" />
<line x1="355.5" y1="271.1" x2="362" y2="271.1" stroke="#505050" stroke-width="1" />
<text transform="translate(358.6 270.5) rotate(-90) scale(0.86 1)" fill="#2a2a2a" stroke="#2a2a2a" stroke-width="0.15" font-size="4.6">15</text>
<text transform="translate(365.5 272.8) scale(0.7 1)" fill="#2a2a2a" stroke="#2a2a2a" stroke-width="0.2" font-size="6.65" text-anchor="start" >GPIO22</text>
<line x1="355" y1="268.9" x2="359.4" y2="273.3" stroke="#f82828" stroke-width="1.0" />
<line x1="355" y1="273.3" x2="359.4" y2="268.9" stroke="#f82828" stroke-width="1.0" />
<line x1="355.5" y1="276.5" x2="362" y2="276.5" stroke="#505050" stroke-width="1" />
<text transform="translate(358.6 275.9) rotate(-90) scale(0.86 1)" fill="#2a2a2a" stroke="#2a2a2a" stroke-width="0.15" font-size="4.6">16</text>
<text transform="translate(365.5 278.2) scale(0.7 1)" fill="#2a2a2a" stroke="#2a2a2a" stroke-width="0.2" font-size="6.65" text-anchor="start" >GPIO23</text>
<line x1="355" y1="274.3" x2="359.4" y2="278.7" stroke="#f82828" stroke-width="1.0" />
<line x1="355" y1="278.7" x2="359.4" y2="274.3" stroke="#f82828" stroke-width="1.0" />
<line x1="355.5" y1="281.9" x2="362" y2="281.9" stroke="#505050" stroke-width="1" />
<text transform="translate(358.6 281.3) rotate(-90) scale(0.86 1)" fill="#2a2a2a" stroke="#2a2a2a" stroke-width="0.15" font-size="4.6">18</text>
<text transform="translate(365.5 283.6) scale(0.7 1)" fill="#2a2a2a" stroke="#2a2a2a" stroke-width="0.2" font-size="6.65" text-anchor="start" >GPIO24</text>
<line x1="355" y1="279.7" x2="359.4" y2="284.1" stroke="#f82828" stroke-width="1.0" />
<line x1="355" y1="284.1" x2="359.4" y2="279.7" stroke="#f82828" stroke-width="1.0" />
<line x1="355.5" y1="287.3" x2="362" y2="287.3" stroke="#505050" stroke-width="1" />
<text transform="translate(358.6 286.7) rotate(-90) scale(0.86 1)" fill="#2a2a2a" stroke="#2a2a2a" stroke-width="0.15" font-size="4.6">22</text>
<text transform="translate(365.5 289) scale(0.7 1)" fill="#2a2a2a" stroke="#2a2a2a" stroke-width="0.2" font-size="6.65" text-anchor="start" >GPIO25</text>
<line x1="355" y1="285.1" x2="359.4" y2="289.5" stroke="#f82828" stroke-width="1.0" />
<line x1="355" y1="289.5" x2="359.4" y2="285.1" stroke="#f82828" stroke-width="1.0" />
<line x1="446.4" y1="152.3" x2="453" y2="152.3" stroke="#505050" stroke-width="1" />
<text transform="translate(451.6 151.7) rotate(-90) scale(0.86 1)" fill="#2a2a2a" stroke="#2a2a2a" stroke-width="0.15" font-size="4.6">28</text>
<text transform="translate(443 154) scale(0.7 1)" fill="#2a2a2a" stroke="#2a2a2a" stroke-width="0.2" font-size="6.65" text-anchor="end" >ID_SC</text>
<line x1="449.6" y1="150.1" x2="454" y2="154.5" stroke="#f82828" stroke-width="1.0" />
<line x1="449.6" y1="154.5" x2="454" y2="150.1" stroke="#f82828" stroke-width="1.0" />
<line x1="446.4" y1="157.7" x2="453" y2="157.7" stroke="#505050" stroke-width="1" />
<text transform="translate(451.6 157.1) rotate(-90) scale(0.86 1)" fill="#2a2a2a" stroke="#2a2a2a" stroke-width="0.15" font-size="4.6">27</text>
<text transform="translate(443 159.4) scale(0.7 1)" fill="#2a2a2a" stroke="#2a2a2a" stroke-width="0.2" font-size="6.65" text-anchor="end" >ID_SD</text>
<line x1="449.6" y1="155.5" x2="454" y2="159.9" stroke="#f82828" stroke-width="1.0" />
<line x1="449.6" y1="159.9" x2="454" y2="155.5" stroke="#f82828" stroke-width="1.0" />
<line x1="446.4" y1="168.5" x2="453" y2="168.5" stroke="#505050" stroke-width="1" />
<text transform="translate(451.6 167.9) rotate(-90) scale(0.86 1)" fill="#2a2a2a" stroke="#2a2a2a" stroke-width="0.15" font-size="4.6">37</text>
<text transform="translate(443 170.2) scale(0.7 1)" fill="#2a2a2a" stroke="#2a2a2a" stroke-width="0.2" font-size="6.65" text-anchor="end" >GPIO26</text>
<line x1="449.6" y1="166.3" x2="454" y2="170.7" stroke="#f82828" stroke-width="1.0" />
<line x1="449.6" y1="170.7" x2="454" y2="166.3" stroke="#f82828" stroke-width="1.0" />
<line x1="446.4" y1="173.9" x2="453" y2="173.9" stroke="#505050" stroke-width="1" />
<text transform="translate(451.6 173.3) rotate(-90) scale(0.86 1)" fill="#2a2a2a" stroke="#2a2a2a" stroke-width="0.15" font-size="4.6">13</text>
<text transform="translate(443 175.6) scale(0.7 1)" fill="#2a2a2a" stroke="#2a2a2a" stroke-width="0.2" font-size="6.65" text-anchor="end" >GPIO27</text>
<line x1="449.6" y1="171.7" x2="454" y2="176.1" stroke="#f82828" stroke-width="1.0" />
<line x1="449.6" y1="176.1" x2="454" y2="171.7" stroke="#f82828" stroke-width="1.0" />
<line x1="446.4" y1="184.7" x2="453" y2="184.7" stroke="#505050" stroke-width="1" />
<text transform="translate(451.6 184.1) rotate(-90) scale(0.86 1)" fill="#2a2a2a" stroke="#2a2a2a" stroke-width="0.15" font-size="4.6">12</text>
<text transform="translate(443 186.4) scale(0.7 1)" fill="#2a2a2a" stroke="#2a2a2a" stroke-width="0.2" font-size="6.65" text-anchor="end" >GPIO18/CLK</text>
<line x1="446.4" y1="190.1" x2="453" y2="190.1" stroke="#505050" stroke-width="1" />
<text transform="translate(451.6 189.5) rotate(-90) scale(0.86 1)" fill="#2a2a2a" stroke="#2a2a2a" stroke-width="0.15" font-size="4.6">40</text>
<text transform="translate(443 191.8) scale(0.7 1)" fill="#2a2a2a" stroke="#2a2a2a" stroke-width="0.2" font-size="6.65" text-anchor="end" >GPIO21/DOUT</text>
<line x1="446.4" y1="195.5" x2="453" y2="195.5" stroke="#505050" stroke-width="1" />
<text transform="translate(451.6 194.9) rotate(-90) scale(0.86 1)" fill="#2a2a2a" stroke="#2a2a2a" stroke-width="0.15" font-size="4.6">35</text>
<text transform="translate(443 197.2) scale(0.7 1)" fill="#2a2a2a" stroke="#2a2a2a" stroke-width="0.2" font-size="6.65" text-anchor="end" >GPIO19/FS</text>
<line x1="446.4" y1="206.3" x2="453" y2="206.3" stroke="#505050" stroke-width="1" />
<text transform="translate(451.6 205.7) rotate(-90) scale(0.86 1)" fill="#2a2a2a" stroke="#2a2a2a" stroke-width="0.15" font-size="4.6">32</text>
<text transform="translate(443 208) scale(0.7 1)" fill="#2a2a2a" stroke="#2a2a2a" stroke-width="0.2" font-size="6.65" text-anchor="end" >GPIO12/PWM0</text>
<line x1="446.4" y1="217.1" x2="453" y2="217.1" stroke="#505050" stroke-width="1" />
<text transform="translate(451.6 216.5) rotate(-90) scale(0.86 1)" fill="#2a2a2a" stroke="#2a2a2a" stroke-width="0.15" font-size="4.6">3</text>
<text transform="translate(443 218.8) scale(0.7 1)" fill="#2a2a2a" stroke="#2a2a2a" stroke-width="0.2" font-size="6.65" text-anchor="end" >GPIO2/SDA</text>
<line x1="446.4" y1="222.5" x2="453" y2="222.5" stroke="#505050" stroke-width="1" />
<text transform="translate(451.6 221.9) rotate(-90) scale(0.86 1)" fill="#2a2a2a" stroke="#2a2a2a" stroke-width="0.15" font-size="4.6">5</text>
<text transform="translate(443 224.2) scale(0.7 1)" fill="#2a2a2a" stroke="#2a2a2a" stroke-width="0.2" font-size="6.65" text-anchor="end" >GPIO3/SCL</text>
<line x1="446.4" y1="249.5" x2="453" y2="249.5" stroke="#505050" stroke-width="1" />
<text transform="translate(451.6 248.9) rotate(-90) scale(0.86 1)" fill="#2a2a2a" stroke="#2a2a2a" stroke-width="0.15" font-size="4.6">6</text>
<text transform="translate(443 251.2) scale(0.7 1)" fill="#2a2a2a" stroke="#2a2a2a" stroke-width="0.2" font-size="6.65" text-anchor="end" >GND[1]</text>
<line x1="449.6" y1="247.3" x2="454" y2="251.7" stroke="#f82828" stroke-width="1.0" />
<line x1="449.6" y1="251.7" x2="454" y2="247.3" stroke="#f82828" stroke-width="1.0" />
<line x1="446.4" y1="254.9" x2="453" y2="254.9" stroke="#505050" stroke-width="1" />
<text transform="translate(451.6 254.3) rotate(-90) scale(0.86 1)" fill="#2a2a2a" stroke="#2a2a2a" stroke-width="0.15" font-size="4.6">9</text>
<text transform="translate(443 256.6) scale(0.7 1)" fill="#2a2a2a" stroke="#2a2a2a" stroke-width="0.2" font-size="6.65" text-anchor="end" >GND[2]</text>
<line x1="449.6" y1="252.7" x2="454" y2="257.1" stroke="#f82828" stroke-width="1.0" />
<line x1="449.6" y1="257.1" x2="454" y2="252.7" stroke="#f82828" stroke-width="1.0" />
<line x1="446.4" y1="260.3" x2="453" y2="260.3" stroke="#505050" stroke-width="1" />
<text transform="translate(451.6 259.7) rotate(-90) scale(0.86 1)" fill="#2a2a2a" stroke="#2a2a2a" stroke-width="0.15" font-size="4.6">14</text>
<text transform="translate(443 262) scale(0.7 1)" fill="#2a2a2a" stroke="#2a2a2a" stroke-width="0.2" font-size="6.65" text-anchor="end" >GND[3]</text>
<line x1="449.6" y1="258.1" x2="454" y2="262.5" stroke="#f82828" stroke-width="1.0" />
<line x1="449.6" y1="262.5" x2="454" y2="258.1" stroke="#f82828" stroke-width="1.0" />
<line x1="446.4" y1="265.7" x2="453" y2="265.7" stroke="#505050" stroke-width="1" />
<text transform="translate(451.6 265.1) rotate(-90) scale(0.86 1)" fill="#2a2a2a" stroke="#2a2a2a" stroke-width="0.15" font-size="4.6">20</text>
<text transform="translate(443 267.4) scale(0.7 1)" fill="#2a2a2a" stroke="#2a2a2a" stroke-width="0.2" font-size="6.65" text-anchor="end" >GND[4]</text>
<line x1="449.6" y1="263.5" x2="454" y2="267.9" stroke="#f82828" stroke-width="1.0" />
<line x1="449.6" y1="267.9" x2="454" y2="263.5" stroke="#f82828" stroke-width="1.0" />
<line x1="446.4" y1="271.1" x2="453" y2="271.1" stroke="#505050" stroke-width="1" />
<text transform="translate(451.6 270.5) rotate(-90) scale(0.86 1)" fill="#2a2a2a" stroke="#2a2a2a" stroke-width="0.15" font-size="4.6">25</text>
<text transform="translate(443 272.8) scale(0.7 1)" fill="#2a2a2a" stroke="#2a2a2a" stroke-width="0.2" font-size="6.65" text-anchor="end" >GND[5]</text>
<line x1="449.6" y1="268.9" x2="454" y2="273.3" stroke="#f82828" stroke-width="1.0" />
<line x1="449.6" y1="273.3" x2="454" y2="268.9" stroke="#f82828" stroke-width="1.0" />
<line x1="446.4" y1="276.5" x2="453" y2="276.5" stroke="#505050" stroke-width="1" />
<text transform="translate(451.6 275.9) rotate(-90) scale(0.86 1)" fill="#2a2a2a" stroke="#2a2a2a" stroke-width="0.15" font-size="4.6">30</text>
<text transform="translate(443 278.2) scale(0.7 1)" fill="#2a2a2a" stroke="#2a2a2a" stroke-width="0.2" font-size="6.65" text-anchor="end" >GND[6]</text>
<line x1="449.6" y1="274.3" x2="454" y2="278.7" stroke="#f82828" stroke-width="1.0" />
<line x1="449.6" y1="278.7" x2="454" y2="274.3" stroke="#f82828" stroke-width="1.0" />
<line x1="446.4" y1="281.9" x2="453" y2="281.9" stroke="#505050" stroke-width="1" />
<text transform="translate(451.6 281.3) rotate(-90) scale(0.86 1)" fill="#2a2a2a" stroke="#2a2a2a" stroke-width="0.15" font-size="4.6">34</text>
<text transform="translate(443 283.6) scale(0.7 1)" fill="#2a2a2a" stroke="#2a2a2a" stroke-width="0.2" font-size="6.65" text-anchor="end" >GND[7]</text>
<line x1="449.6" y1="279.7" x2="454" y2="284.1" stroke="#f82828" stroke-width="1.0" />
<line x1="449.6" y1="284.1" x2="454" y2="279.7" stroke="#f82828" stroke-width="1.0" />
<line x1="446.4" y1="287.3" x2="453" y2="287.3" stroke="#505050" stroke-width="1" />
<text transform="translate(451.6 286.7) rotate(-90) scale(0.86 1)" fill="#2a2a2a" stroke="#2a2a2a" stroke-width="0.15" font-size="4.6">39</text>
<text transform="translate(443 289) scale(0.7 1)" fill="#2a2a2a" stroke="#2a2a2a" stroke-width="0.2" font-size="6.65" text-anchor="end" >GND[8]</text>
<line x1="338" y1="147.3" x2="338" y2="152.3" stroke="#b85850" stroke-width="1" />
<polyline points="336.4,146.9 338,148.5 339.6,146.9" stroke="#b85850" stroke-width="0.8" fill="none" />
<text x="338" y="147.3" fill="#a04040" stroke="#a04040" stroke-width="0.2" font-size="7.71" text-anchor="middle" textLength="8.0" lengthAdjust="spacingAndGlyphs">5V</text>
<circle cx="338" cy="152.3" r="1.5" fill="#10107a"/>
<circle cx="348.7" cy="152.3" r="1.5" fill="#10107a"/>
<polyline points="348.7,152.3 348.7,157.7 355.5,157.7" stroke="#4a42ae" stroke-width="1.15" fill="none" />
<line x1="349" y1="152.3" x2="355.5" y2="152.3" stroke="#4a42ae" stroke-width="1.15" />
<line x1="338" y1="163.8" x2="338" y2="168.8" stroke="#b85850" stroke-width="1" />
<polyline points="336.4,163.4 338,165 339.6,163.4" stroke="#b85850" stroke-width="0.8" fill="none" />
<text x="338" y="163.8" fill="#a04040" stroke="#a04040" stroke-width="0.2" font-size="7.71" text-anchor="middle" textLength="7.8" lengthAdjust="spacingAndGlyphs">3V3</text>
<circle cx="338" cy="168.8" r="1.5" fill="#10107a"/>
<polyline points="453,287.3 459.5,287.3 459.5,296" stroke="#4a42ae" stroke-width="1.15" fill="none" />
<line x1="459.5" y1="295.5" x2="459.5" y2="296" stroke="#b85850" stroke-width="1" />
<line x1="453.75" y1="296" x2="465.25" y2="296" stroke="#b85850" stroke-width="1" />
<line x1="455.5" y1="297.8" x2="463.5" y2="297.8" stroke="#b85850" stroke-width="1" />
<line x1="457.25" y1="299.6" x2="461.75" y2="299.6" stroke="#b85850" stroke-width="1" />
<line x1="458.7" y1="301.4" x2="460.3" y2="301.4" stroke="#b85850" stroke-width="1" />
<line x1="453" y1="184.7" x2="481.3" y2="184.7" stroke="#4a42ae" stroke-width="1.15" />
<line x1="453" y1="190.1" x2="481.3" y2="190.1" stroke="#4a42ae" stroke-width="1.15" />
<line x1="453" y1="195.5" x2="481.3" y2="195.5" stroke="#4a42ae" stroke-width="1.15" />
<line x1="453" y1="206.3" x2="481.3" y2="206.3" stroke="#4a42ae" stroke-width="1.15" />
<polygon points="481.3,181.9 513.7,181.9 516.7,184.7 513.7,187.5 481.3,187.5" stroke="#b08040" stroke-width="0.8" fill="#f8f070"/>
<text transform="translate(484.3 186.5) scale(0.7 1)" fill="#8a2424" stroke="#8a2424" stroke-width="0.2" font-size="6.65" text-anchor="start" >PCM_CLK</text>
<polygon points="481.3,187.3 513.7,187.3 516.7,190.1 513.7,192.9 481.3,192.9" stroke="#b08040" stroke-width="0.8" fill="#f8f070"/>
<text transform="translate(484.3 191.9) scale(0.7 1)" fill="#8a2424" stroke="#8a2424" stroke-width="0.2" font-size="6.65" text-anchor="start" >PCM_DOUT</text>
<polygon points="481.3,192.7 513.7,192.7 516.7,195.5 513.7,198.3 481.3,198.3" stroke="#b08040" stroke-width="0.8" fill="#f8f070"/>
<text transform="translate(484.3 197.3) scale(0.7 1)" fill="#8a2424" stroke="#8a2424" stroke-width="0.2" font-size="6.65" text-anchor="start" >PCM_FS</text>
<polygon points="481.3,203.5 513.7,203.5 516.7,206.3 513.7,209.1 481.3,209.1" stroke="#b08040" stroke-width="0.8" fill="#f8f070"/>
<text transform="translate(484.3 208.1) scale(0.7 1)" fill="#8a2424" stroke="#8a2424" stroke-width="0.2" font-size="6.65" text-anchor="start" >LED_PWM</text>
<polyline points="453,217.1 551.5,217.1 551.5,339.1 267.7,339.1 267.7,479.5 352,479.5" stroke="#4a42ae" stroke-width="1.15" fill="none" />
<polyline points="453,222.5 541,222.5 541,327.9 256.8,327.9 256.8,487.9 352,487.9" stroke="#4a42ae" stroke-width="1.15" fill="none" />
<rect x="367.5" y="387.7" width="70.9" height="124.3" fill="#ffffb8" stroke="#b85848" stroke-width="1"/>
<text transform="translate(368 380.5) scale(0.7 1)" fill="#22228a" stroke="#22228a" stroke-width="0.2" font-size="6.92" text-anchor="start" >U2</text>
<text transform="translate(368 386) scale(0.7 1)" fill="#22228a" stroke="#22228a" stroke-width="0.2" font-size="6.92" text-anchor="start" >CAP1166</text>
<line x1="327.4" y1="374.6" x2="327.4" y2="379.6" stroke="#b85850" stroke-width="1" />
<polyline points="325.8,374.2 327.4,375.8 329,374.2" stroke="#b85850" stroke-width="0.8" fill="none" />
<text x="327.4" y="374.6" fill="#a04040" stroke="#a04040" stroke-width="0.2" font-size="7.71" text-anchor="middle" textLength="7.8" lengthAdjust="spacingAndGlyphs">3V3</text>
<circle cx="327.4" cy="379.6" r="1.5" fill="#10107a"/>
<polyline points="327.4,379.6 343,379.6 343,395.6 367.5,395.6" stroke="#4a42ae" stroke-width="1.15" fill="none" />
<line x1="327.4" y1="379.6" x2="327.4" y2="386.4" stroke="#4a42ae" stroke-width="1.15" />
<line x1="322.8" y1="386.4" x2="332.2" y2="386.4" stroke="#2828f0" stroke-width="1" />
<line x1="322.8" y1="389.2" x2="332.2" y2="389.2" stroke="#2828f0" stroke-width="1" />
<line x1="327.4" y1="389.3" x2="327.4" y2="401" stroke="#4a42ae" stroke-width="1.15" />
<line x1="327.4" y1="400.5" x2="327.4" y2="401" stroke="#b85850" stroke-width="1" />
<line x1="321.65" y1="401" x2="333.15" y2="401" stroke="#b85850" stroke-width="1" />
<line x1="323.4" y1="402.8" x2="331.4" y2="402.8" stroke="#b85850" stroke-width="1" />
<line x1="325.15" y1="404.6" x2="329.65" y2="404.6" stroke="#b85850" stroke-width="1" />
<line x1="326.6" y1="406.4" x2="328.2" y2="406.4" stroke="#b85850" stroke-width="1" />
<text transform="translate(309.2 386) scale(0.7 1)" fill="#22228a" stroke="#22228a" stroke-width="0.2" font-size="6.92" text-anchor="start" >C3</text>
<text transform="translate(309.2 391.5) scale(0.7 1)" fill="#22228a" stroke="#22228a" stroke-width="0.2" font-size="6.92" text-anchor="start" >0.1uF</text>
<line x1="352" y1="395.6" x2="367.5" y2="395.6" stroke="#505050" stroke-width="1" />
<text transform="translate(362 394) scale(0.7 1)" fill="#2a2a2a" stroke="#2a2a2a" stroke-width="0.2" font-size="5.59" text-anchor="middle" >19</text>
<text transform="translate(371.2 397.5) scale(0.7 1)" fill="#2a2a2a" stroke="#2a2a2a" stroke-width="0.2" font-size="6.92" text-anchor="start" >VDD</text>
<circle cx="301" cy="422.6" r="2.4" stroke="#2828f0" stroke-width="1" fill="none"/>
<line x1="303.4" y1="422.6" x2="352" y2="422.6" stroke="#4a42ae" stroke-width="1.15" />
<line x1="352" y1="422.6" x2="367.5" y2="422.6" stroke="#505050" stroke-width="1" />
<text transform="translate(362 421.6) scale(0.7 1)" fill="#2a2a2a" stroke="#2a2a2a" stroke-width="0.2" font-size="5.59" text-anchor="middle" >18</text>
<text transform="translate(371.2 424.4) scale(0.7 1)" fill="#2a2a2a" stroke="#2a2a2a" stroke-width="0.2" font-size="6.92" text-anchor="start" >CS1</text>
<text transform="translate(313.7 422) scale(0.7 1)" fill="#8a2424" stroke="#8a2424" stroke-width="0.2" font-size="6.92" text-anchor="start" >PLAY/PAUSE</text>
<circle cx="301" cy="428" r="2.4" stroke="#2828f0" stroke-width="1" fill="none"/>
<line x1="303.4" y1="428" x2="352" y2="428" stroke="#4a42ae" stroke-width="1.15" />
<line x1="352" y1="428" x2="367.5" y2="428" stroke="#505050" stroke-width="1" />
<text transform="translate(362 427) scale(0.7 1)" fill="#2a2a2a" stroke="#2a2a2a" stroke-width="0.2" font-size="5.59" text-anchor="middle" >17</text>
<text transform="translate(371.2 429.8) scale(0.7 1)" fill="#2a2a2a" stroke="#2a2a2a" stroke-width="0.2" font-size="6.92" text-anchor="start" >CS2</text>
<text transform="translate(313.7 427.4) scale(0.7 1)" fill="#8a2424" stroke="#8a2424" stroke-width="0.2" font-size="6.92" text-anchor="start" >STOP</text>
<circle cx="301" cy="433.4" r="2.4" stroke="#2828f0" stroke-width="1" fill="none"/>
<line x1="303.4" y1="433.4" x2="352" y2="433.4" stroke="#4a42ae" stroke-width="1.15" />
<line x1="352" y1="433.4" x2="367.5" y2="433.4" stroke="#505050" stroke-width="1" />
<text transform="translate(362 432.4) scale(0.7 1)" fill="#2a2a2a" stroke="#2a2a2a" stroke-width="0.2" font-size="5.59" text-anchor="middle" >16</text>
<text transform="translate(371.2 435.2) scale(0.7 1)" fill="#2a2a2a" stroke="#2a2a2a" stroke-width="0.2" font-size="6.92" text-anchor="start" >CS3</text>
<text transform="translate(313.7 432.8) scale(0.7 1)" fill="#8a2424" stroke="#8a2424" stroke-width="0.2" font-size="6.92" text-anchor="start" >VOL-</text>
<circle cx="301" cy="438.8" r="2.4" stroke="#2828f0" stroke-width="1" fill="none"/>
<line x1="303.4" y1="438.8" x2="352" y2="438.8" stroke="#4a42ae" stroke-width="1.15" />
<line x1="352" y1="438.8" x2="367.5" y2="438.8" stroke="#505050" stroke-width="1" />
<text transform="translate(362 437.8) scale(0.7 1)" fill="#2a2a2a" stroke="#2a2a2a" stroke-width="0.2" font-size="5.59" text-anchor="middle" >15</text>
<text transform="translate(371.2 440.6) scale(0.7 1)" fill="#2a2a2a" stroke="#2a2a2a" stroke-width="0.2" font-size="6.92" text-anchor="start" >CS4</text>
<text transform="translate(313.7 438.2) scale(0.7 1)" fill="#8a2424" stroke="#8a2424" stroke-width="0.2" font-size="6.92" text-anchor="start" >VOL+</text>
<circle cx="301" cy="444.2" r="2.4" stroke="#2828f0" stroke-width="1" fill="none"/>
<line x1="303.4" y1="444.2" x2="352" y2="444.2" stroke="#4a42ae" stroke-width="1.15" />
<line x1="352" y1="444.2" x2="367.5" y2="444.2" stroke="#505050" stroke-width="1" />
<text transform="translate(362 443.2) scale(0.7 1)" fill="#2a2a2a" stroke="#2a2a2a" stroke-width="0.2" font-size="5.59" text-anchor="middle" >14</text>
<text transform="translate(371.2 446) scale(0.7 1)" fill="#2a2a2a" stroke="#2a2a2a" stroke-width="0.2" font-size="6.92" text-anchor="start" >CS5</text>
<text transform="translate(313.7 443.6) scale(0.7 1)" fill="#8a2424" stroke="#8a2424" stroke-width="0.2" font-size="6.92" text-anchor="start" >PREV</text>
<circle cx="301" cy="449.6" r="2.4" stroke="#2828f0" stroke-width="1" fill="none"/>
<line x1="303.4" y1="449.6" x2="352" y2="449.6" stroke="#4a42ae" stroke-width="1.15" />
<line x1="352" y1="449.6" x2="367.5" y2="449.6" stroke="#505050" stroke-width="1" />
<text transform="translate(362 448.6) scale(0.7 1)" fill="#2a2a2a" stroke="#2a2a2a" stroke-width="0.2" font-size="5.59" text-anchor="middle" >13</text>
<text transform="translate(371.2 451.4) scale(0.7 1)" fill="#2a2a2a" stroke="#2a2a2a" stroke-width="0.2" font-size="6.92" text-anchor="start" >CS6</text>
<text transform="translate(313.7 449) scale(0.7 1)" fill="#8a2424" stroke="#8a2424" stroke-width="0.2" font-size="6.92" text-anchor="start" >NEXT</text>
<line x1="352" y1="479.5" x2="367.5" y2="479.5" stroke="#505050" stroke-width="1" />
<text transform="translate(362 478.3) scale(0.7 1)" fill="#2a2a2a" stroke="#2a2a2a" stroke-width="0.2" font-size="5.59" text-anchor="middle" >3</text>
<text transform="translate(371.2 481.3) scale(0.7 1)" fill="#2a2a2a" stroke="#2a2a2a" stroke-width="0.2" font-size="6.92" text-anchor="start" >SMDATA(SDA)</text>
<text transform="translate(313.3 478.3) scale(0.7 1)" fill="#8a2424" stroke="#8a2424" stroke-width="0.2" font-size="6.92" text-anchor="start" >I2C1_SDA</text>
<line x1="352" y1="487.9" x2="367.5" y2="487.9" stroke="#505050" stroke-width="1" />
<text transform="translate(362 486.7) scale(0.7 1)" fill="#2a2a2a" stroke="#2a2a2a" stroke-width="0.2" font-size="5.59" text-anchor="middle" >4</text>
<text transform="translate(371.2 489.7) scale(0.7 1)" fill="#2a2a2a" stroke="#2a2a2a" stroke-width="0.2" font-size="6.92" text-anchor="start" >SMCLK(SCL)</text>
<text transform="translate(313.3 486.7) scale(0.7 1)" fill="#8a2424" stroke="#8a2424" stroke-width="0.2" font-size="6.92" text-anchor="start" >I2C1_SCL</text>
<line x1="352" y1="496.2" x2="367.5" y2="496.2" stroke="#505050" stroke-width="1" />
<text transform="translate(362 495) scale(0.7 1)" fill="#2a2a2a" stroke="#2a2a2a" stroke-width="0.2" font-size="5.59" text-anchor="middle" >1</text>
<text transform="translate(371.2 498) scale(0.7 1)" fill="#2a2a2a" stroke="#2a2a2a" stroke-width="0.2" font-size="6.92" text-anchor="start" >SPI_CS</text>
<line x1="352" y1="504" x2="367.5" y2="504" stroke="#505050" stroke-width="1" />
<text transform="translate(362 502.8) scale(0.7 1)" fill="#2a2a2a" stroke="#2a2a2a" stroke-width="0.2" font-size="5.59" text-anchor="middle" >12</text>
<text transform="translate(371.2 505.8) scale(0.7 1)" fill="#2a2a2a" stroke="#2a2a2a" stroke-width="0.2" font-size="6.92" text-anchor="start" >ADDR_COMM</text>
<polyline points="352,496.2 333,496.2 333,511.7" stroke="#4a42ae" stroke-width="1.15" fill="none" />
<line x1="333" y1="511.2" x2="333" y2="511.7" stroke="#b85850" stroke-width="1" />
<line x1="327.25" y1="511.7" x2="338.75" y2="511.7" stroke="#b85850" stroke-width="1" />
<line x1="329" y1="513.5" x2="337" y2="513.5" stroke="#b85850" stroke-width="1" />
<line x1="330.75" y1="515.3" x2="335.25" y2="515.3" stroke="#b85850" stroke-width="1" />
<line x1="332.2" y1="517.1" x2="333.8" y2="517.1" stroke="#b85850" stroke-width="1" />
<polyline points="352,504 346.4,504 346.4,517" stroke="#4a42ae" stroke-width="1.15" fill="none" />
<line x1="346.4" y1="523.3" x2="346.4" y2="536.8" stroke="#4a42ae" stroke-width="1.15" />
<line x1="346.4" y1="510.6" x2="346.4" y2="516.6" stroke="#505050" stroke-width="1" />
<line x1="346.4" y1="524.1" x2="346.4" y2="530.1" stroke="#505050" stroke-width="1" />
<polyline points="346.4,516.6 345.2,517.07 347.6,518.01 345.2,518.94 347.6,519.88 345.2,520.82 347.6,521.76 345.2,522.69 347.6,523.63 346.4,524.1" stroke="#2828f0" stroke-width="0.9" fill="none" />
<line x1="346.4" y1="536.3" x2="346.4" y2="536.8" stroke="#b85850" stroke-width="1" />
<line x1="340.65" y1="536.8" x2="352.15" y2="536.8" stroke="#b85850" stroke-width="1" />
<line x1="342.4" y1="538.6" x2="350.4" y2="538.6" stroke="#b85850" stroke-width="1" />
<line x1="344.15" y1="540.4" x2="348.65" y2="540.4" stroke="#b85850" stroke-width="1" />
<line x1="345.6" y1="542.2" x2="347.2" y2="542.2" stroke="#b85850" stroke-width="1" />
<text transform="translate(351.7 518.5) scale(0.7 1)" fill="#22228a" stroke="#22228a" stroke-width="0.2" font-size="6.92" text-anchor="start" >R12</text>
<text transform="translate(351.7 524.5) scale(0.7 1)" fill="#22228a" stroke="#22228a" stroke-width="0.2" font-size="6.92" text-anchor="start" >82k</text>
<text transform="translate(367.8 522) scale(0.7 1)" fill="#22228a" stroke="#22228a" stroke-width="0.2" font-size="6.92" text-anchor="start" >I2C Address = 0x2C</text>
<line x1="438.4" y1="422.6" x2="460.4" y2="422.6" stroke="#505050" stroke-width="1" />
<text transform="translate(443 421.6) scale(0.7 1)" fill="#2a2a2a" stroke="#2a2a2a" stroke-width="0.2" font-size="5.59" text-anchor="middle" >5</text>
<text transform="translate(435 424.4) scale(0.7 1)" fill="#2a2a2a" stroke="#2a2a2a" stroke-width="0.2" font-size="6.92" text-anchor="end" >LED1</text>
<line x1="454.4" y1="422.6" x2="460.4" y2="422.6" stroke="#505050" stroke-width="1" />
<line x1="474.3" y1="422.6" x2="480.3" y2="422.6" stroke="#505050" stroke-width="1" />
<polyline points="460.4,422.6 461.27,421.6 463.01,423.6 464.74,421.6 466.48,423.6 468.22,421.6 469.96,423.6 471.69,421.6 473.43,423.6 474.3,422.6" stroke="#2828f0" stroke-width="0.9" fill="none" />
<text transform="translate(460 421.6) scale(0.7 1)" fill="#22228a" stroke="#22228a" stroke-width="0.2" font-size="5.99" text-anchor="start" >R6</text>
<text transform="translate(476.6 421.8) scale(0.7 1)" fill="#22228a" stroke="#22228a" stroke-width="0.2" font-size="6.38" text-anchor="start" >330 ohm</text>
<line x1="438.4" y1="428" x2="460.4" y2="428" stroke="#505050" stroke-width="1" />
<text transform="translate(443 427) scale(0.7 1)" fill="#2a2a2a" stroke="#2a2a2a" stroke-width="0.2" font-size="5.59" text-anchor="middle" >6</text>
<text transform="translate(435 429.8) scale(0.7 1)" fill="#2a2a2a" stroke="#2a2a2a" stroke-width="0.2" font-size="6.92" text-anchor="end" >LED2</text>
<line x1="454.4" y1="428" x2="460.4" y2="428" stroke="#505050" stroke-width="1" />
<line x1="474.3" y1="428" x2="480.3" y2="428" stroke="#505050" stroke-width="1" />
<polyline points="460.4,428 461.27,427 463.01,429 464.74,427 466.48,429 468.22,427 469.96,429 471.69,427 473.43,429 474.3,428" stroke="#2828f0" stroke-width="0.9" fill="none" />
<text transform="translate(460 427) scale(0.7 1)" fill="#22228a" stroke="#22228a" stroke-width="0.2" font-size="5.99" text-anchor="start" >R7</text>
<text transform="translate(476.6 427.2) scale(0.7 1)" fill="#22228a" stroke="#22228a" stroke-width="0.2" font-size="6.38" text-anchor="start" >330 ohm</text>
<line x1="438.4" y1="433.4" x2="460.4" y2="433.4" stroke="#505050" stroke-width="1" />
<text transform="translate(443 432.4) scale(0.7 1)" fill="#2a2a2a" stroke="#2a2a2a" stroke-width="0.2" font-size="5.59" text-anchor="middle" >7</text>
<text transform="translate(435 435.2) scale(0.7 1)" fill="#2a2a2a" stroke="#2a2a2a" stroke-width="0.2" font-size="6.92" text-anchor="end" >LED3</text>
<line x1="454.4" y1="433.4" x2="460.4" y2="433.4" stroke="#505050" stroke-width="1" />
<line x1="474.3" y1="433.4" x2="480.3" y2="433.4" stroke="#505050" stroke-width="1" />
<polyline points="460.4,433.4 461.27,432.4 463.01,434.4 464.74,432.4 466.48,434.4 468.22,432.4 469.96,434.4 471.69,432.4 473.43,434.4 474.3,433.4" stroke="#2828f0" stroke-width="0.9" fill="none" />
<text transform="translate(460 432.4) scale(0.7 1)" fill="#22228a" stroke="#22228a" stroke-width="0.2" font-size="5.99" text-anchor="start" >R8</text>
<text transform="translate(476.6 432.6) scale(0.7 1)" fill="#22228a" stroke="#22228a" stroke-width="0.2" font-size="6.38" text-anchor="start" >330 ohm</text>
<line x1="438.4" y1="438.8" x2="460.4" y2="438.8" stroke="#505050" stroke-width="1" />
<text transform="translate(443 437.8) scale(0.7 1)" fill="#2a2a2a" stroke="#2a2a2a" stroke-width="0.2" font-size="5.59" text-anchor="middle" >8</text>
<text transform="translate(435 440.6) scale(0.7 1)" fill="#2a2a2a" stroke="#2a2a2a" stroke-width="0.2" font-size="6.92" text-anchor="end" >LED4</text>
<line x1="454.4" y1="438.8" x2="460.4" y2="438.8" stroke="#505050" stroke-width="1" />
<line x1="474.3" y1="438.8" x2="480.3" y2="438.8" stroke="#505050" stroke-width="1" />
<polyline points="460.4,438.8 461.27,437.8 463.01,439.8 464.74,437.8 466.48,439.8 468.22,437.8 469.96,439.8 471.69,437.8 473.43,439.8 474.3,438.8" stroke="#2828f0" stroke-width="0.9" fill="none" />
<text transform="translate(460 437.8) scale(0.7 1)" fill="#22228a" stroke="#22228a" stroke-width="0.2" font-size="5.99" text-anchor="start" >R9</text>
<text transform="translate(476.6 438) scale(0.7 1)" fill="#22228a" stroke="#22228a" stroke-width="0.2" font-size="6.38" text-anchor="start" >330 ohm</text>
<line x1="438.4" y1="444.2" x2="460.4" y2="444.2" stroke="#505050" stroke-width="1" />
<text transform="translate(443 443.2) scale(0.7 1)" fill="#2a2a2a" stroke="#2a2a2a" stroke-width="0.2" font-size="5.59" text-anchor="middle" >9</text>
<text transform="translate(435 446) scale(0.7 1)" fill="#2a2a2a" stroke="#2a2a2a" stroke-width="0.2" font-size="6.92" text-anchor="end" >LED5</text>
<line x1="454.4" y1="444.2" x2="460.4" y2="444.2" stroke="#505050" stroke-width="1" />
<line x1="474.3" y1="444.2" x2="480.3" y2="444.2" stroke="#505050" stroke-width="1" />
<polyline points="460.4,444.2 461.27,443.2 463.01,445.2 464.74,443.2 466.48,445.2 468.22,443.2 469.96,445.2 471.69,443.2 473.43,445.2 474.3,444.2" stroke="#2828f0" stroke-width="0.9" fill="none" />
<text transform="translate(460 443.2) scale(0.7 1)" fill="#22228a" stroke="#22228a" stroke-width="0.2" font-size="5.99" text-anchor="start" >R10</text>
<text transform="translate(476.6 443.4) scale(0.7 1)" fill="#22228a" stroke="#22228a" stroke-width="0.2" font-size="6.38" text-anchor="start" >330 ohm</text>
<line x1="438.4" y1="449.6" x2="460.4" y2="449.6" stroke="#505050" stroke-width="1" />
<text transform="translate(443 448.6) scale(0.7 1)" fill="#2a2a2a" stroke="#2a2a2a" stroke-width="0.2" font-size="5.59" text-anchor="middle" >10</text>
<text transform="translate(435 451.4) scale(0.7 1)" fill="#2a2a2a" stroke="#2a2a2a" stroke-width="0.2" font-size="6.92" text-anchor="end" >LED6</text>
<line x1="454.4" y1="449.6" x2="460.4" y2="449.6" stroke="#505050" stroke-width="1" />
<line x1="474.3" y1="449.6" x2="480.3" y2="449.6" stroke="#505050" stroke-width="1" />
<polyline points="460.4,449.6 461.27,448.6 463.01,450.6 464.74,448.6 466.48,450.6 468.22,448.6 469.96,450.6 471.69,448.6 473.43,450.6 474.3,449.6" stroke="#2828f0" stroke-width="0.9" fill="none" />
<text transform="translate(460 448.6) scale(0.7 1)" fill="#22228a" stroke="#22228a" stroke-width="0.2" font-size="5.99" text-anchor="start" >R11</text>
<text transform="translate(476.6 448.8) scale(0.7 1)" fill="#22228a" stroke="#22228a" stroke-width="0.2" font-size="6.38" text-anchor="start" >330 ohm</text>
<line x1="438.7" y1="479.6" x2="454" y2="479.6" stroke="#505050" stroke-width="1" />
<text transform="translate(443 478.4) scale(0.7 1)" fill="#2a2a2a" stroke="#2a2a2a" stroke-width="0.2" font-size="5.59" text-anchor="middle" >11</text>
<text transform="translate(435 481.4) scale(0.7 1)" fill="#2a2a2a" stroke="#2a2a2a" stroke-width="0.2" font-size="6.92" text-anchor="end" >ALERT</text>
<line x1="438.7" y1="487.9" x2="454" y2="487.9" stroke="#505050" stroke-width="1" />
<text transform="translate(443 486.7) scale(0.7 1)" fill="#2a2a2a" stroke="#2a2a2a" stroke-width="0.2" font-size="5.59" text-anchor="middle" >2</text>
<text transform="translate(435 489.7) scale(0.7 1)" fill="#2a2a2a" stroke="#2a2a2a" stroke-width="0.2" font-size="6.92" text-anchor="end" >WAKE</text>
<line x1="438.7" y1="496" x2="454" y2="496" stroke="#505050" stroke-width="1" />
<text transform="translate(443 494.8) scale(0.7 1)" fill="#2a2a2a" stroke="#2a2a2a" stroke-width="0.2" font-size="5.59" text-anchor="middle" >20</text>
<text transform="translate(435 497.8) scale(0.7 1)" fill="#2a2a2a" stroke="#2a2a2a" stroke-width="0.2" font-size="6.92" text-anchor="end" >RESET</text>
<line x1="438.7" y1="504" x2="454" y2="504" stroke="#505050" stroke-width="1" />
<text transform="translate(443 502.8) scale(0.7 1)" fill="#2a2a2a" stroke="#2a2a2a" stroke-width="0.2" font-size="5.59" text-anchor="middle" >21</text>
<text transform="translate(435 505.8) scale(0.7 1)" fill="#2a2a2a" stroke="#2a2a2a" stroke-width="0.2" font-size="6.92" text-anchor="end" >PAD</text>
<line x1="452" y1="477.3" x2="456.6" y2="481.9" stroke="#f82828" stroke-width="1.0" />
<line x1="452" y1="481.9" x2="456.6" y2="477.3" stroke="#f82828" stroke-width="1.0" />
<line x1="419.6" y1="476" x2="435" y2="476" stroke="#2a2a2a" stroke-width="0.6" />
<polyline points="454,487.9 459.6,487.9 459.6,514.6" stroke="#4a42ae" stroke-width="1.15" fill="none" />
<line x1="454" y1="496" x2="459.6" y2="496" stroke="#4a42ae" stroke-width="1.15" />
<line x1="454" y1="504" x2="459.6" y2="504" stroke="#4a42ae" stroke-width="1.15" />
<circle cx="459.6" cy="496" r="1.5" fill="#10107a"/>
<circle cx="459.6" cy="504" r="1.5" fill="#10107a"/>
<line x1="459.6" y1="514.1" x2="459.6" y2="514.6" stroke="#b85850" stroke-width="1" />
<line x1="453.85" y1="514.6" x2="465.35" y2="514.6" stroke="#b85850" stroke-width="1" />
<line x1="455.6" y1="516.4" x2="463.6" y2="516.4" stroke="#b85850" stroke-width="1" />
<line x1="457.35" y1="518.2" x2="461.85" y2="518.2" stroke="#b85850" stroke-width="1" />
<line x1="458.8" y1="520" x2="460.4" y2="520" stroke="#b85850" stroke-width="1" />
<line x1="474.3" y1="422.6" x2="551.4" y2="422.6" stroke="#4a42ae" stroke-width="1.15" />
<line x1="540" y1="422.9" x2="551.4" y2="422.9" stroke="#505050" stroke-width="1" />
<polygon points="551.4,422.9 557,417.4 557,428.4" stroke="#2828f0" stroke-width="0.8" fill="#2828f0"/>
<line x1="551.4" y1="417.3" x2="551.4" y2="428.5" stroke="#6060f0" stroke-width="1" />
<line x1="557" y1="422.9" x2="591.6" y2="422.9" stroke="#4a42ae" stroke-width="1.15" />
<line x1="557" y1="422.9" x2="567" y2="422.9" stroke="#505050" stroke-width="1" />
<line x1="545.6" y1="413.7" x2="549.2" y2="416.9" stroke="#2828f0" stroke-width="1.1" />
<line x1="547.6" y1="411.7" x2="551" y2="414.7" stroke="#2828f0" stroke-width="1.1" />
<polygon points="544.8,412.9 546.9,413.6 545.6,414.9" stroke="#2828f0" stroke-width="0.5" fill="#2828f0"/>
<polygon points="546.8,410.9 548.9,411.6 547.6,412.9" stroke="#2828f0" stroke-width="0.5" fill="#2828f0"/>
<text transform="translate(559.5 419.1) scale(0.7 1)" fill="#22228a" stroke="#22228a" stroke-width="0.2" font-size="6.92" text-anchor="start" >D1</text>
<text transform="translate(570.5 419.1) scale(0.7 1)" fill="#22228a" stroke="#22228a" stroke-width="0.2" font-size="6.92" text-anchor="start" >LED</text>
<circle cx="591.6" cy="422.9" r="1.5" fill="#10107a"/>
<polyline points="474.3,428 526.7,428 526.7,441.9 551.4,441.9" stroke="#4a42ae" stroke-width="1.15" fill="none" />
<line x1="540" y1="441.9" x2="551.4" y2="441.9" stroke="#505050" stroke-width="1" />
<polygon points="551.4,441.9 557,436.4 557,447.4" stroke="#2828f0" stroke-width="0.8" fill="#2828f0"/>
<line x1="551.4" y1="436.3" x2="551.4" y2="447.5" stroke="#6060f0" stroke-width="1" />
<line x1="557" y1="441.9" x2="591.6" y2="441.9" stroke="#4a42ae" stroke-width="1.15" />
<line x1="557" y1="441.9" x2="567" y2="441.9" stroke="#505050" stroke-width="1" />
<line x1="545.6" y1="432.7" x2="549.2" y2="435.9" stroke="#2828f0" stroke-width="1.1" />
<line x1="547.6" y1="430.7" x2="551" y2="433.7" stroke="#2828f0" stroke-width="1.1" />
<polygon points="544.8,431.9 546.9,432.6 545.6,433.9" stroke="#2828f0" stroke-width="0.5" fill="#2828f0"/>
<polygon points="546.8,429.9 548.9,430.6 547.6,431.9" stroke="#2828f0" stroke-width="0.5" fill="#2828f0"/>
<text transform="translate(559.5 438.1) scale(0.7 1)" fill="#22228a" stroke="#22228a" stroke-width="0.2" font-size="6.92" text-anchor="start" >D2</text>
<text transform="translate(570.5 438.1) scale(0.7 1)" fill="#22228a" stroke="#22228a" stroke-width="0.2" font-size="6.92" text-anchor="start" >LED</text>
<circle cx="591.6" cy="441.9" r="1.5" fill="#10107a"/>
<polyline points="474.3,433.4 521.3,433.4 521.3,460.6 551.4,460.6" stroke="#4a42ae" stroke-width="1.15" fill="none" />
<line x1="540" y1="460.6" x2="551.4" y2="460.6" stroke="#505050" stroke-width="1" />
<polygon points="551.4,460.6 557,455.1 557,466.1" stroke="#2828f0" stroke-width="0.8" fill="#2828f0"/>
<line x1="551.4" y1="455" x2="551.4" y2="466.2" stroke="#6060f0" stroke-width="1" />
<line x1="557" y1="460.6" x2="591.6" y2="460.6" stroke="#4a42ae" stroke-width="1.15" />
<line x1="557" y1="460.6" x2="567" y2="460.6" stroke="#505050" stroke-width="1" />
<line x1="545.6" y1="451.4" x2="549.2" y2="454.6" stroke="#2828f0" stroke-width="1.1" />
<line x1="547.6" y1="449.4" x2="551" y2="452.4" stroke="#2828f0" stroke-width="1.1" />
<polygon points="544.8,450.6 546.9,451.3 545.6,452.6" stroke="#2828f0" stroke-width="0.5" fill="#2828f0"/>
<polygon points="546.8,448.6 548.9,449.3 547.6,450.6" stroke="#2828f0" stroke-width="0.5" fill="#2828f0"/>
<text transform="translate(559.5 456.8) scale(0.7 1)" fill="#22228a" stroke="#22228a" stroke-width="0.2" font-size="6.92" text-anchor="start" >D3</text>
<text transform="translate(570.5 456.8) scale(0.7 1)" fill="#22228a" stroke="#22228a" stroke-width="0.2" font-size="6.92" text-anchor="start" >LED</text>
<circle cx="591.6" cy="460.6" r="1.5" fill="#10107a"/>
<polyline points="474.3,438.8 516,438.8 516,479.4 551.4,479.4" stroke="#4a42ae" stroke-width="1.15" fill="none" />
<line x1="540" y1="479.4" x2="551.4" y2="479.4" stroke="#505050" stroke-width="1" />
<polygon points="551.4,479.4 557,473.9 557,484.9" stroke="#2828f0" stroke-width="0.8" fill="#2828f0"/>
<line x1="551.4" y1="473.8" x2="551.4" y2="485" stroke="#6060f0" stroke-width="1" />
<line x1="557" y1="479.4" x2="591.6" y2="479.4" stroke="#4a42ae" stroke-width="1.15" />
<line x1="557" y1="479.4" x2="567" y2="479.4" stroke="#505050" stroke-width="1" />
<line x1="545.6" y1="470.2" x2="549.2" y2="473.4" stroke="#2828f0" stroke-width="1.1" />
<line x1="547.6" y1="468.2" x2="551" y2="471.2" stroke="#2828f0" stroke-width="1.1" />
<polygon points="544.8,469.4 546.9,470.1 545.6,471.4" stroke="#2828f0" stroke-width="0.5" fill="#2828f0"/>
<polygon points="546.8,467.4 548.9,468.1 547.6,469.4" stroke="#2828f0" stroke-width="0.5" fill="#2828f0"/>
<text transform="translate(559.5 475.6) scale(0.7 1)" fill="#22228a" stroke="#22228a" stroke-width="0.2" font-size="6.92" text-anchor="start" >D4</text>
<text transform="translate(570.5 475.6) scale(0.7 1)" fill="#22228a" stroke="#22228a" stroke-width="0.2" font-size="6.92" text-anchor="start" >LED</text>
<circle cx="591.6" cy="479.4" r="1.5" fill="#10107a"/>
<polyline points="474.3,444.2 510.7,444.2 510.7,498.3 551.4,498.3" stroke="#4a42ae" stroke-width="1.15" fill="none" />
<line x1="540" y1="498.3" x2="551.4" y2="498.3" stroke="#505050" stroke-width="1" />
<polygon points="551.4,498.3 557,492.8 557,503.8" stroke="#2828f0" stroke-width="0.8" fill="#2828f0"/>
<line x1="551.4" y1="492.7" x2="551.4" y2="503.9" stroke="#6060f0" stroke-width="1" />
<line x1="557" y1="498.3" x2="591.6" y2="498.3" stroke="#4a42ae" stroke-width="1.15" />
<line x1="557" y1="498.3" x2="567" y2="498.3" stroke="#505050" stroke-width="1" />
<line x1="545.6" y1="489.1" x2="549.2" y2="492.3" stroke="#2828f0" stroke-width="1.1" />
<line x1="547.6" y1="487.1" x2="551" y2="490.1" stroke="#2828f0" stroke-width="1.1" />
<polygon points="544.8,488.3 546.9,489 545.6,490.3" stroke="#2828f0" stroke-width="0.5" fill="#2828f0"/>
<polygon points="546.8,486.3 548.9,487 547.6,488.3" stroke="#2828f0" stroke-width="0.5" fill="#2828f0"/>
<text transform="translate(559.5 494.5) scale(0.7 1)" fill="#22228a" stroke="#22228a" stroke-width="0.2" font-size="6.92" text-anchor="start" >D5</text>
<text transform="translate(570.5 494.5) scale(0.7 1)" fill="#22228a" stroke="#22228a" stroke-width="0.2" font-size="6.92" text-anchor="start" >LED</text>
<circle cx="591.6" cy="498.3" r="1.5" fill="#10107a"/>
<polyline points="474.3,449.6 505.6,449.6 505.6,517.1 551.4,517.1" stroke="#4a42ae" stroke-width="1.15" fill="none" />
<line x1="540" y1="517.1" x2="551.4" y2="517.1" stroke="#505050" stroke-width="1" />
<polygon points="551.4,517.1 557,511.6 557,522.6" stroke="#2828f0" stroke-width="0.8" fill="#2828f0"/>
<line x1="551.4" y1="511.5" x2="551.4" y2="522.7" stroke="#6060f0" stroke-width="1" />
<line x1="557" y1="517.1" x2="591.6" y2="517.1" stroke="#4a42ae" stroke-width="1.15" />
<line x1="557" y1="517.1" x2="567" y2="517.1" stroke="#505050" stroke-width="1" />
<line x1="545.6" y1="507.9" x2="549.2" y2="511.1" stroke="#2828f0" stroke-width="1.1" />
<line x1="547.6" y1="505.9" x2="551" y2="508.9" stroke="#2828f0" stroke-width="1.1" />
<polygon points="544.8,507.1 546.9,507.8 545.6,509.1" stroke="#2828f0" stroke-width="0.5" fill="#2828f0"/>
<polygon points="546.8,505.1 548.9,505.8 547.6,507.1" stroke="#2828f0" stroke-width="0.5" fill="#2828f0"/>
<text transform="translate(559.5 513.3) scale(0.7 1)" fill="#22228a" stroke="#22228a" stroke-width="0.2" font-size="6.92" text-anchor="start" >D6</text>
<text transform="translate(570.5 513.3) scale(0.7 1)" fill="#22228a" stroke="#22228a" stroke-width="0.2" font-size="6.92" text-anchor="start" >LED</text>
<line x1="591.6" y1="411.5" x2="591.6" y2="416.5" stroke="#b85850" stroke-width="1" />
<polyline points="590,411.1 591.6,412.7 593.2,411.1" stroke="#b85850" stroke-width="0.8" fill="none" />
<text x="591.6" y="411.5" fill="#a04040" stroke="#a04040" stroke-width="0.2" font-size="7.71" text-anchor="middle" textLength="8.0" lengthAdjust="spacingAndGlyphs">5V</text>
<line x1="591.6" y1="415" x2="591.6" y2="517.1" stroke="#4a42ae" stroke-width="1.15" />
</svg></body></html>
